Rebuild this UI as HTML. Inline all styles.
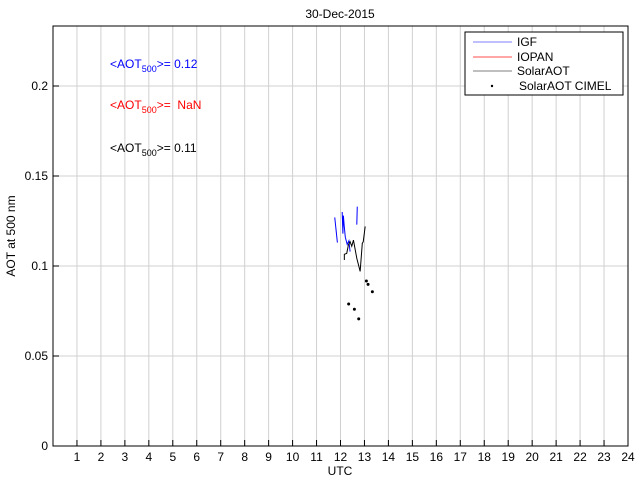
<!DOCTYPE html>
<html><head><meta charset="utf-8"><style>
body{margin:0;background:#fff;font-family:"Liberation Sans",sans-serif;}
svg text{font-family:"Liberation Sans",sans-serif;font-size:12px;}
</style></head><body>
<svg id="chart" width="640" height="480">
<rect x="0" y="0" width="640" height="480" fill="#fff"/>
<g id="grid"></g>
<g id="series"></g>
<rect x="53" y="26" width="575" height="420" fill="none" stroke="#000"/>
<g id="ticks"></g>
<text x="340" y="18" text-anchor="middle" font-size="11">30-Dec-2015</text>
<text x="340" y="475" text-anchor="middle">UTC</text>
<text transform="translate(15,236) rotate(-90)" text-anchor="middle">AOT at 500 nm</text>
<text x="110" y="68" fill="#0000ff">&lt;AOT<tspan font-size="9" dy="4">500</tspan><tspan dy="-4">&gt;= 0.12</tspan></text>
<text x="110" y="109" fill="#ff0000">&lt;AOT<tspan font-size="9" dy="4">500</tspan><tspan dy="-4">&gt;=&#160; NaN</tspan></text>
<text x="110" y="152" fill="#000">&lt;AOT<tspan font-size="9" dy="4">500</tspan><tspan dy="-4">&gt;= 0.11</tspan></text>
<g>
<rect x="465" y="32" width="158" height="63" fill="#fff" stroke="#000"/>
<line x1="473" y1="42" x2="512" y2="42" stroke="#aaaaff" stroke-width="1.5"/>
<text x="517" y="46">IGF</text>
<line x1="473" y1="57" x2="512" y2="57" stroke="#ff8888" stroke-width="1.5"/>
<text x="517" y="61">IOPAN</text>
<line x1="473" y1="71" x2="512" y2="71" stroke="#aaaaaa" stroke-width="1.5"/>
<text x="517" y="75">SolarAOT</text>
<circle cx="492" cy="86" r="1.2" fill="#000"/>
<text x="519" y="90">SolarAOT CIMEL</text>
</g>
</svg>
<script>
const xTicks=[1,2,3,4,5,6,7,8,9,10,11,12,13,14,15,16,17,18,19,20,21,22,23,24];
const yTicks=[0,0.05,0.1,0.15,0.2];
const yTickLabels=["0","0.05","0.1","0.15","0.2"];
const igf1X=[11.76,11.87];
const igf1Y=[0.127,0.113];
const igf2X=[12.07,12.1,12.12,12.15,12.2,12.28,12.35,12.4];
const igf2Y=[0.130,0.118,0.128,0.123,0.116,0.112,0.114,0.108];
const igf3X=[12.7,12.68];
const igf3Y=[0.133,0.123];
const solX=[12.16,12.16,12.26,12.33,12.40,12.47,12.54,12.68,12.82,12.91,12.95,13.03];
const solY=[0.1033,0.1065,0.107,0.1117,0.1135,0.111,0.1144,0.1043,0.097,0.1126,0.1135,0.122];
const cimX=[13.08,13.15,13.33,12.34,12.58,12.76];
const cimY=[0.0917,0.0898,0.0857,0.0789,0.076,0.0706];
const NS="http://www.w3.org/2000/svg";
const X=v=>53+v*575/24, Y=v=>446-v*1800;
function mk(t,a,p){const e=document.createElementNS(NS,t);for(const k in a)e.setAttribute(k,a[k]);p.appendChild(e);return e;}
const grid=document.getElementById('grid'),ticks=document.getElementById('ticks'),ser=document.getElementById('series');
xTicks.forEach(t=>{
 const g=mk('line',{x1:X(t),x2:X(t),y1:26,y2:446,stroke:'#d0d0d0'},grid);
 
 
 const tk=mk('line',{x1:X(t),x2:X(t),y1:440,y2:446,stroke:'#000'},ticks);
 
 
 const l=mk('text',{x:X(t),y:461,'text-anchor':'middle'},ticks);l.textContent=t;
 
 
});
yTicks.forEach((t,i)=>{
 if(t>0){const g=mk('line',{x1:53,x2:628,y1:Y(t),y2:Y(t),stroke:'#d0d0d0'},grid);
 
 }
 const tk=mk('line',{x1:53,x2:59,y1:Y(t),y2:Y(t),stroke:'#000'},ticks);
 
 
 const l=mk('text',{x:48,y:Y(t)+4,'text-anchor':'end'},ticks);l.textContent=yTickLabels[i];
 
 
});
function line(xs,ys,c,name){
 const p=mk('polyline',{points:xs.map((x,i)=>X(x)+','+Y(ys[i])).join(' '),fill:'none',stroke:c,'stroke-width':1},ser);
 
 
}
line(igf1X,igf1Y,'#0000ff','igf-line');
line(igf2X,igf2Y,'#0000ff','igf-line');
line(igf3X,igf3Y,'#0000ff','igf-line');
line(solX,solY,'#000','solaraot-line');
cimX.forEach((x,i)=>{
 const c=mk('circle',{cx:X(x),cy:Y(cimY[i]),r:1.5,fill:'#000'},ser);
 
 
});
</script>
</body></html>
